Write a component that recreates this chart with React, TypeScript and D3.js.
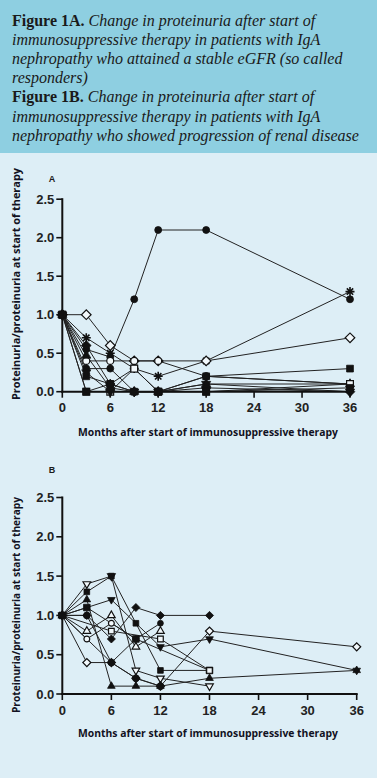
import React from "react";
import * as d3 from "d3";

const MONTHS = [0, 3, 6, 9, 12, 18, 36];
const X_TICKS = [0, 6, 12, 18, 24, 30, 36];
const Y_TICKS = [0, 0.5, 1, 1.5, 2, 2.5];

// Chart A – responders (values per MONTHS, null = no measurement)
const A_CIRCLE_1 = [1, 0.55, 0.45, 1.2, 2.1, 2.1, 1.2];
const A_STAR = [1, 0.7, 0.5, 0.3, 0.2, 0.4, 1.3];
const A_DIAMOND_OPEN = [1, 1.0, 0.6, 0.4, 0.4, 0.4, 0.7];
const A_CIRCLE_OPEN = [1, 0.4, 0.4, 0.4, 0.4, 0.2, 0.1];
const A_SQUARE = [1, 0.2, 0.1, 0.3, 0.0, 0.2, 0.3];
const A_CIRCLE_2 = [1, 0.3, 0.3, 0.0, 0.0, 0.2, 0.1];
const A_TRIANGLE = [1, 0.47, 0.05, 0.0, 0.0, 0.1, 0.1];
const A_SQUARE_OPEN = [1, 0.0, 0.0, 0.3, 0.0, 0.0, 0.1];
const A_DIAMOND = [1, 0.6, 0.1, 0.0, 0.0, 0.05, 0.0];
const A_TRI_DOWN = [1, 0.25, 0.0, 0.0, 0.0, 0.1, 0.0];
const A_SQUARE_2 = [1, 0.0, 0.1, 0.0, 0.0, 0.0, 0.05];

// Chart B – progressors
const B_TRI_DOWN_OPEN = [1, 1.4, 1.5, 0.3, 0.2, 0.1, null];
const B_SQUARE = [1, 1.3, 1.5, 0.9, 0.3, 0.3, null];
const B_TRIANGLE = [1, 1.2, 0.1, 0.1, 0.1, 0.2, 0.3];
const B_TRI_DOWN = [1, null, 1.2, null, 0.6, 0.7, 0.3];
const B_SQUARE_BIG = [1, 1.1, null, 0.7, null, 0.3, null];
const B_DIAMOND = [1, 1.0, 0.7, 1.1, 1.0, 1.0, null];
const B_TRIANGLE_OPEN = [1, 0.8, 1.0, 0.6, 0.8, null, null];
const B_CIRCLE_OPEN = [1, 0.7, 0.9, 0.7, null, null, null];
const B_SQUARE_OPEN = [1, null, 0.8, null, 0.7, 0.3, null];
const B_DIAMOND_OPEN = [1, 0.4, 0.4, 0.2, 0.1, 0.8, 0.6];
const B_CIRCLE_BIG = [1, 1.0, 0.4, 0.2, 0.1, null, null];
const B_CIRCLE_SMALL = [1, null, 0.4, 0.7, 0.9, null, null];

const SERIES_A: [number | null[], string][] = [
  [A_CIRCLE_1, "circle"],
  [A_STAR, "star"],
  [A_DIAMOND_OPEN, "diamondOpen"],
  [A_CIRCLE_OPEN, "circleOpen"],
  [A_SQUARE, "square"],
  [A_CIRCLE_2, "circle"],
  [A_TRIANGLE, "triangle"],
  [A_SQUARE_OPEN, "squareOpen"],
  [A_DIAMOND, "diamond"],
  [A_TRI_DOWN, "triDown"],
  [A_SQUARE_2, "square"],
] as any;

const SERIES_B: any[] = [
  [B_TRI_DOWN_OPEN, "triDownOpen"],
  [B_SQUARE, "square"],
  [B_TRIANGLE, "triangle"],
  [B_TRI_DOWN, "triDown"],
  [B_SQUARE_BIG, "squareBig"],
  [B_DIAMOND, "diamond"],
  [B_TRIANGLE_OPEN, "triangleOpen"],
  [B_CIRCLE_OPEN, "circleOpen"],
  [B_SQUARE_OPEN, "squareOpen"],
  [B_DIAMOND_OPEN, "diamondOpen"],
  [B_CIRCLE_BIG, "circleBig"],
  [B_CIRCLE_SMALL, "circle"],
];

const HEADER_BG = "#8ecfe1";
const PANEL_BG = "#ddeef6";
const INK = "#1a1a1a";

function markerPath(kind: string, scale: number): { d: string; open: boolean; rot: number } {
  const open = kind.includes("Open");
  const base = kind.replace("Open", "").replace("Big", "");
  const big = kind.includes("Big") ? 1.35 : 1;
  const s = scale * big;
  switch (base) {
    case "circle":
      return { d: d3.symbol(d3.symbolCircle, 38 * s)()!, open, rot: 0 };
    case "square":
      return { d: d3.symbol(d3.symbolSquare, 46 * s)()!, open, rot: 0 };
    case "diamond":
      return { d: d3.symbol(d3.symbolSquare, 46 * s)()!, open, rot: 45 };
    case "triangle":
      return { d: d3.symbol(d3.symbolTriangle, 36 * s)()!, open, rot: 0 };
    case "triDown":
      return { d: d3.symbol(d3.symbolTriangle, 36 * s)()!, open, rot: 180 };
    case "star": {
      const r = 4.5 * Math.sqrt(s);
      let p = "";
      for (let i = 0; i < 4; i++) {
        const a = (i * Math.PI) / 4;
        p += `M${-r * Math.cos(a)},${-r * Math.sin(a)}L${r * Math.cos(a)},${r * Math.sin(a)}`;
      }
      return { d: p, open: false, rot: 0 };
    }
  }
  return { d: d3.symbol(d3.symbolCircle, 38 * s)()!, open, rot: 0 };
}

function Chart({ series, top, xRange, yRange, letter, letterY, tickLabelY, titleY, yLabelCenter, yLabelLen, mscale }: any) {
  const x = d3.scaleLinear().domain([0, 36]).range(xRange);
  const y = d3.scaleLinear().domain([0, 2.5]).range(yRange);
  const line = d3
    .line<[number, number]>()
    .x((d) => x(d[0]))
    .y((d) => y(d[1]));
  const x0 = x(0);
  const y0 = y(0);
  return (
    <g>
      <text x={52} y={letterY} fontFamily="Liberation Sans, Arial, sans-serif" fontWeight="bold" fontSize={9} textAnchor="middle" fill={INK}>
        {letter}
      </text>
      {/* series lines */}
      {series.map(([vals, kind]: any, i: number) => {
        const pts = MONTHS.map((m, j) => [m, vals[j]]).filter((p) => p[1] !== null) as [number, number][];
        return <path key={"l" + i} d={line(pts)!} fill="none" stroke="#222" strokeWidth={1} />;
      })}
      {/* markers */}
      {series.map(([vals, kind]: any, i: number) => {
        const pts = MONTHS.map((m, j) => [m, vals[j]]).filter((p) => p[1] !== null) as [number, number][];
        const mk = markerPath(kind, mscale);
        return (
          <g key={"m" + i}>
            {pts.map((p, k) => (
              <path
                key={k}
                d={mk.d}
                transform={`translate(${x(p[0])},${y(p[1])}) rotate(${mk.rot})`}
                fill={mk.open ? "#f2f8fb" : "#111"}
                stroke="#111"
                strokeWidth={kind === "star" ? 1.6 : mk.open ? 1.2 : 0.8}
              />
            ))}
          </g>
        );
      })}
      {/* axes */}
      <line x1={x0} x2={x0} y1={y(2.5) - 1} y2={y0 + 1} stroke="#111" strokeWidth={2} />
      <line x1={x0 - 1} x2={x(36) + 1} y1={y0} y2={y0} stroke="#111" strokeWidth={2} />
      {Y_TICKS.map((t) => (
        <g key={"yt" + t}>
          <line x1={x0 - 6} x2={x0} y1={y(t)} y2={y(t)} stroke="#111" strokeWidth={1.6} />
          <text
            x={x0 - 8}
            y={y(t)}
            dy="0.36em"
            textAnchor="end"
            fontFamily="Liberation Sans, Arial, sans-serif"
            fontWeight="bold"
            fontSize={13}
            fill="#222"
          >
            {d3.format(".1f")(t)}
          </text>
        </g>
      ))}
      {X_TICKS.map((t) => (
        <g key={"xt" + t}>
          <line x1={x(t)} x2={x(t)} y1={y0} y2={y0 + 6} stroke="#111" strokeWidth={1.6} />
          <text
            x={x(t)}
            y={tickLabelY}
            textAnchor="middle"
            fontFamily="Liberation Sans, Arial, sans-serif"
            fontWeight="bold"
            fontSize={13}
            fill="#222"
          >
            {t}
          </text>
        </g>
      ))}
      <text
        x={208}
        y={titleY}
        textAnchor="middle"
        fontFamily="Open Sans, Noto Sans, sans-serif"
        fontWeight="bold"
        fontSize={11}
        textLength={260}
        lengthAdjust="spacingAndGlyphs"
        fill="#111122"
      >
        Months after start of immunosuppressive therapy
      </text>
      <text
        transform={`translate(20,${yLabelCenter}) rotate(-90)`}
        textAnchor="middle"
        fontFamily="Open Sans, Noto Sans, sans-serif"
        fontWeight="bold"
        fontSize={11}
        textLength={yLabelLen}
        lengthAdjust="spacingAndGlyphs"
        fill="#111122"
      >
        Proteinuria/proteinuria at start of therapy
      </text>
    </g>
  );
}

export default function App() {
  const headerLines: [string, string][] = [
    ["Figure 1A.", " Change in proteinuria after start of"],
    ["", "immunosuppressive therapy in patients with IgA"],
    ["", "nephropathy who attained a stable eGFR (so called"],
    ["", "responders)"],
    ["Figure 1B.", " Change in proteinuria after start of"],
    ["", "immunosuppressive therapy in patients with IgA"],
    ["", "nephropathy who showed progression of renal disease"],
  ];
  return (
    <svg width={377} height={778} style={{ position: "absolute", left: 0, top: 0 }}>
      <rect x={0} y={0} width={377} height={778} fill={PANEL_BG} />
      <rect x={0} y={0} width={377} height={153} fill={HEADER_BG} />
      {headerLines.map(([b, it], i) => (
        <text key={i} x={12} y={26 + i * 19.1} fontFamily="Liberation Serif, Times New Roman, serif" fontSize={16} fill={INK}>
          {b && <tspan fontWeight="bold">{b}</tspan>}
          <tspan fontStyle="italic">{it}</tspan>
        </text>
      ))}
      <Chart
        series={SERIES_A}
        xRange={[62.3, 350]}
        yRange={[391.7, 199.2]}
        letter="A"
        letterY={182}
        tickLabelY={412}
        titleY={436}
        yLabelCenter={284}
        yLabelLen={232}
        mscale={1}
      />
      <Chart
        series={SERIES_B}
        xRange={[62.3, 356.7]}
        yRange={[694, 497.5]}
        letter="B"
        letterY={473}
        tickLabelY={715}
        titleY={737}
        yLabelCenter={605}
        yLabelLen={216}
        mscale={0.7}
      />
    </svg>
  );
}
